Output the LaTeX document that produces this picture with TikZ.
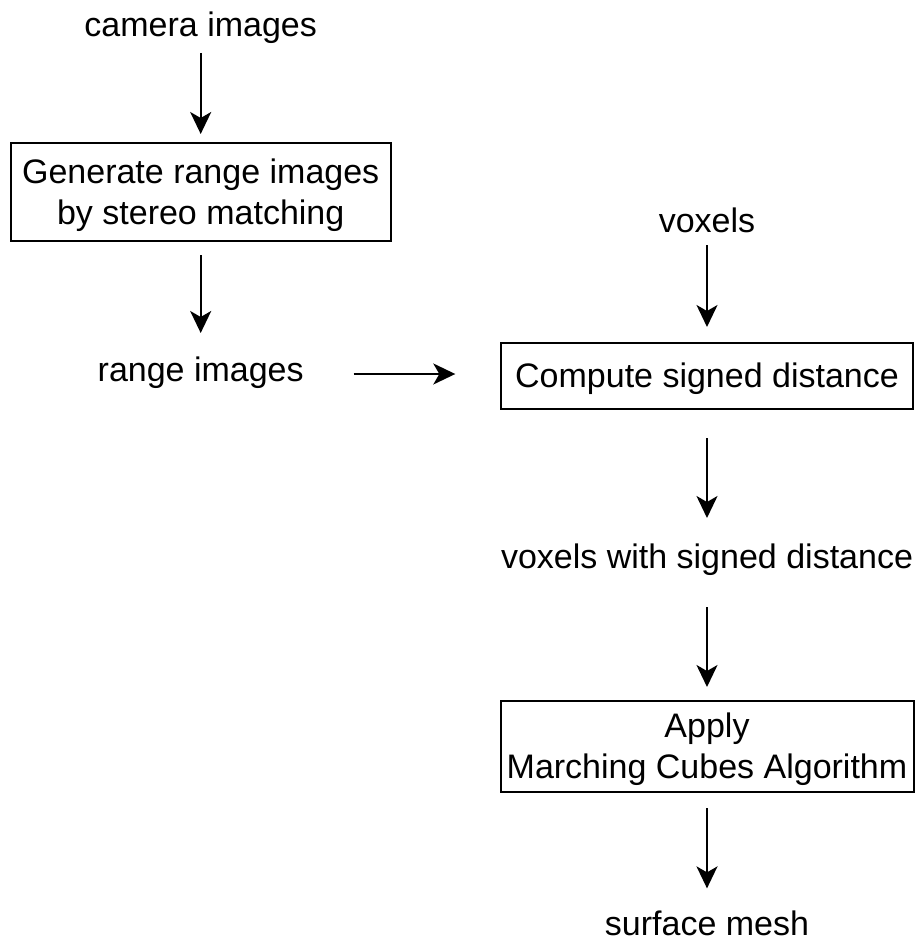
\documentclass[tikz,border=0pt]{standalone}
\usepackage{fontspec}
\setmainfont{Liberation Sans}
\usetikzlibrary{arrows.meta}
% a strut giving every line the same 1.2em line box
\newcommand\linestrut{\rule[-0.2535em]{0pt}{1.2em}}

\begin{document}
\begin{tikzpicture}[x=1pt, y=-1pt,
  every node/.style={inner sep=0pt, outer sep=0pt, align=center,
    font=\fontsize{34}{40.8}\selectfont},
  procbox/.style={draw, line width=2pt},
  flow/.style={line width=2pt, -{Stealth[length=22pt, width=21pt, inset=6pt]}}]

  % canvas
  \fill[white] (0,0) rectangle (917,939);
  \useasboundingbox (0,0) rectangle (917,939);

  % left column: stereo stage
  \node (cam) at (200.7,25) {\linestrut camera images};
  \node[procbox, minimum width=380pt, minimum height=98pt] (gen) at (200.7,192)
    {\linestrut Generate range images\\ \linestrut by stereo matching};
  \node (rng) at (200.7,370) {\linestrut range images};

  % right column: volumetric fusion and meshing
  \node (vox) at (707,221) {\linestrut voxels};
  \node[procbox, minimum width=412pt, minimum height=66pt] (sdist) at (707,376)
    {\linestrut Compute signed distance};
  \node (vsd) at (707,557) {\linestrut voxels with signed distance};
  \node[procbox, minimum width=413pt, minimum height=91pt] (mc) at (707,746.5)
    {\linestrut Apply\\ \linestrut Marching Cubes Algorithm};
  \node[anchor=base] (mesh) at (707,935) {surface mesh};

  % connectors
  \draw[flow, shorten <=7.6pt, shorten >=9pt] (cam) -- (gen);
  \draw[flow, shorten <=14pt, shorten >=16.6pt] (gen) -- (rng);
  \draw[flow, shorten <=50pt, shorten >=45.7pt]
    ([yshift=-4pt]rng.east) -- ([yshift=-4pt]rng.east -| sdist.west);
  \draw[flow, shorten <=3.6pt, shorten >=16pt] (vox) -- (sdist);
  \draw[flow, shorten <=29pt, shorten >=18.6pt] (sdist) -- (vsd);
  \draw[flow, shorten <=29.6pt, shorten >=14pt] (vsd) -- (mc);
  \draw[flow, shorten <=16pt] (mc.south) -- ([yshift=22pt]mesh.north);
\end{tikzpicture}
\end{document}
